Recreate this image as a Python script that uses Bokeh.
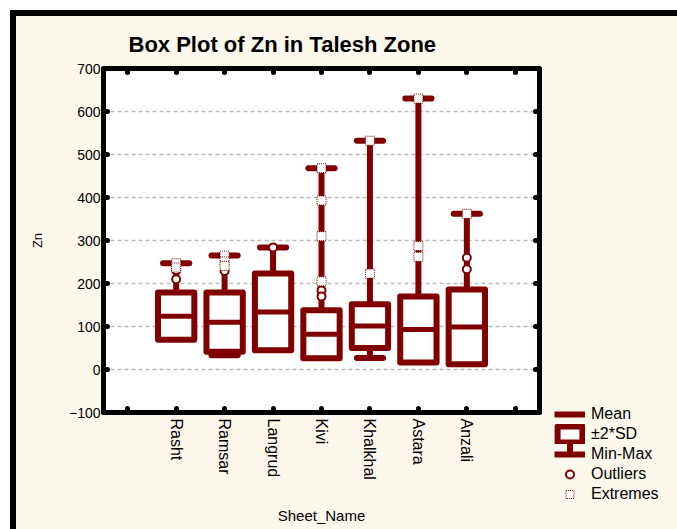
from bokeh.plotting import figure
from bokeh.layouts import row, column
from bokeh.models import (ColumnDataSource, FixedTicker, LinearAxis, Legend,
                          LegendItem, Range1d, Spacer)
from bokeh.embed import file_html
from bokeh.resources import INLINE

# ---------------- data ----------------
categories = ["Rasht", "Ramsar", "Langrud", "Kivi", "Khalkhal", "Astara", "Anzali"]
means = [124, 110, 134, 82, 101, 93, 99]
two_sd = [55, 69, 89, 56, 51, 77, 87]
mins = [75, 33, 60, 30, 27, 20, 15]
maxs = [247, 265, 284, 468, 532, 630, 362]

outlier_cat = ["Rasht", "Rasht", "Ramsar", "Langrud", "Kivi", "Kivi", "Anzali", "Anzali"]
outlier_val = [231, 210, 229, 284, 184, 170, 260, 233]

extreme_cat = ["Rasht", "Rasht", "Ramsar", "Ramsar", "Ramsar", "Kivi", "Kivi", "Kivi", "Kivi",
               "Khalkhal", "Khalkhal", "Astara", "Astara", "Astara", "Anzali"]
extreme_val = [247, 237, 265, 251, 241, 468, 393, 310, 205, 532, 223, 630, 287, 262, 362]

y_ticks = [-100, 0, 100, 200, 300, 400, 500, 600, 700]
legend_labels = ["Mean", "±2*SD", "Min-Max", "Outliers", "Extremes"]

# ---------------- styling ----------------
RED = "#800000"
CREAM = "#FCF8EC"
FONT = "Liberation Sans"
BOX_HALF = 0.375
CAP_HALF = 0.27

pos = {c: i + 1 for i, c in enumerate(categories)}
xs = [pos[c] for c in categories]

p = figure(width=530, height=513, output_backend="svg", toolbar_location=None,
           x_range=Range1d(-0.5, len(categories) + 1.5), y_range=Range1d(-100, 700),
           min_border_left=87, min_border_right=7, min_border_top=52, min_border_bottom=117,
           x_axis_label="Sheet_Name", y_axis_label="Zn")
p.border_fill_color = CREAM
p.background_fill_color = "white"
p.outline_line_color = "black"
p.outline_line_width = 5

# title
p.title.text = "Box Plot of Zn in Talesh Zone"
p.title.text_font = FONT
p.title.text_font_size = "22px"
p.title.text_font_style = "bold"
p.title.text_color = "black"
p.title.align = "left"
p.title.offset = 25
p.title.standoff = 24

# grid
p.xgrid.visible = False
p.ygrid.ticker = FixedTicker(ticks=y_ticks)
p.ygrid.grid_line_color = "#BDBDBD"
p.ygrid.grid_line_dash = "4 3"
p.ygrid.grid_line_width = 1.5

# axes
xt = FixedTicker(ticks=list(range(0, len(categories) + 2)))
yt = FixedTicker(ticks=y_ticks)
overrides = {0: "", len(categories) + 1: ""}
overrides.update({pos[c]: c for c in categories})

def style_axis(ax):
    ax.axis_line_color = "black"
    ax.axis_line_width = 5
    ax.major_tick_in = 4
    ax.major_tick_out = 0
    ax.major_tick_line_width = 5
    ax.major_tick_line_cap = "round"
    ax.major_tick_line_color = "black"
    ax.minor_tick_line_color = None
    ax.major_label_text_font = FONT
    ax.major_label_text_color = "black"
    ax.axis_label_text_font = FONT
    ax.axis_label_text_font_style = "normal"
    ax.axis_label_text_color = "black"

xa = p.xaxis[0]
style_axis(xa)
xa.ticker = xt
xa.major_label_overrides = overrides
xa.major_label_orientation = "vertical"
xa.major_label_text_font_size = "16px"
xa.major_label_standoff = 6
xa.axis_label_text_font_size = "15px"
xa.axis_label_standoff = 24

ya = p.yaxis[0]
style_axis(ya)
ya.ticker = yt
ya.major_label_text_font_size = "14px"
ya.major_label_standoff = 3
ya.axis_label_text_font_size = "13px"
ya.axis_label_standoff = 21

# mirrored tick marks on the top and right frame edges (no labels)
top_ax = LinearAxis(ticker=xt)
style_axis(top_ax)
top_ax.major_label_text_font_size = "0px"
top_ax.major_label_text_color = None
top_ax.major_label_standoff = 0
p.add_layout(top_ax, "above")

right_ax = LinearAxis(ticker=yt)
style_axis(right_ax)
right_ax.major_label_text_font_size = "0px"
right_ax.major_label_text_color = None
right_ax.major_label_standoff = 0
p.add_layout(right_ax, "right")

# ---------------- marks ----------------
box_src = ColumnDataSource(dict(
    x=xs,
    top=[m + s for m, s in zip(means, two_sd)],
    bottom=[m - s for m, s in zip(means, two_sd)],
    mean=means,
    lo=mins,
    hi=maxs,
    x0=[x - BOX_HALF for x in xs],
    x1=[x + BOX_HALF for x in xs],
    c0=[x - CAP_HALF for x in xs],
    c1=[x + CAP_HALF for x in xs],
))
out_src = ColumnDataSource(dict(x=[pos[c] for c in outlier_cat], y=outlier_val))
ext_src = ColumnDataSource(dict(x=[pos[c] for c in extreme_cat], y=extreme_val))

whisker_kw = dict(line_color=RED, line_width=6)
cap_kw = dict(line_color=RED, line_width=6, line_cap="round")
box_kw = dict(fill_color="white", line_color=RED, line_width=6, line_join="round")
mean_kw = dict(line_color=RED, line_width=5)
out_kw = dict(marker="circle", size=8, fill_color="white", line_color=RED, line_width=2)
ext_kw = dict(marker="square", size=9, fill_color="white", line_color=RED, line_width=1,
              line_dash="1 1")

# whiskers (min-max)
p.segment(x0="x", x1="x", y0="lo", y1="hi", source=box_src, **whisker_kw)
# caps
p.segment(x0="c0", x1="c1", y0="hi", y1="hi", source=box_src, **cap_kw)
p.segment(x0="c0", x1="c1", y0="lo", y1="lo", source=box_src, **cap_kw)
# +-2SD boxes
p.quad(left="x0", right="x1", top="top", bottom="bottom", source=box_src, **box_kw)
# mean lines
p.segment(x0="x0", x1="x1", y0="mean", y1="mean", source=box_src, **mean_kw)
# outliers & extremes
p.scatter("x", "y", source=out_src, **out_kw)
p.scatter("x", "y", source=ext_src, **ext_kw)

# ---------------- legend (own small panel right of the plot) ----------------
LF_W, LF_H = 131, 100
LEG_X, GLYPH_W, ROW_H = 8, 31, 20

lf = figure(width=LF_W, height=LF_H, output_backend="svg", toolbar_location=None,
            x_axis_location=None, y_axis_location=None,
            x_range=Range1d(0, 1), y_range=Range1d(0, 1),
            min_border_left=0, min_border_right=0, min_border_top=0, min_border_bottom=0)
lf.border_fill_color = CREAM
lf.background_fill_color = CREAM
lf.outline_line_color = None
lf.grid.visible = False

# stem joining the +-2SD swatch to the Min-Max cap (one composite symbol, as in the original)
stem_x = (LEG_X + GLYPH_W / 2) / LF_W
lf.segment(x0=[stem_x], x1=[stem_x],
           y0=[1 - (2 * ROW_H - 0.1 * ROW_H) / LF_H], y1=[1 - 2.5 * ROW_H / LF_H],
           line_color=RED, line_width=6)

# same series drawn in the legend panel; their values lie outside its 0..1 ranges,
# so only the legend swatches are visible there
leg_mean = lf.segment(x0="x0", x1="x1", y0="mean", y1="mean", source=box_src,
                      line_color=RED, line_width=6)
leg_box = lf.quad(left="x0", right="x1", top="top", bottom="bottom", source=box_src, **box_kw)
leg_mm = lf.segment(x0="c0", x1="c1", y0="lo", y1="lo", source=box_src,
                    line_color=RED, line_width=6)
leg_out = lf.scatter("x", "y", source=out_src, **out_kw)
leg_ext = lf.scatter("x", "y", source=ext_src, **ext_kw)

legend = Legend(items=[LegendItem(label=lab, renderers=[r]) for lab, r in
                       zip(legend_labels, [leg_mean, leg_box, leg_mm, leg_out, leg_ext])],
                location=(LEG_X, 0), glyph_width=GLYPH_W, glyph_height=ROW_H,
                label_height=ROW_H, spacing=0, padding=0, margin=0, label_standoff=6,
                border_line_alpha=0, background_fill_alpha=0, label_text_font=FONT,
                label_text_font_size="16px", label_text_color="black")
lf.add_layout(legend)

legend_col = column(Spacer(width=LF_W, height=388), lf, spacing=0)

# outer frame of the graph window
page = row(p, legend_col, spacing=0,
           styles={"border-left": "6px solid black", "border-top": "6px solid black",
                   "margin-left": "10px", "margin-top": "10px",
                   "background-color": CREAM})

open("out.html", "w").write(file_html(page, INLINE))
